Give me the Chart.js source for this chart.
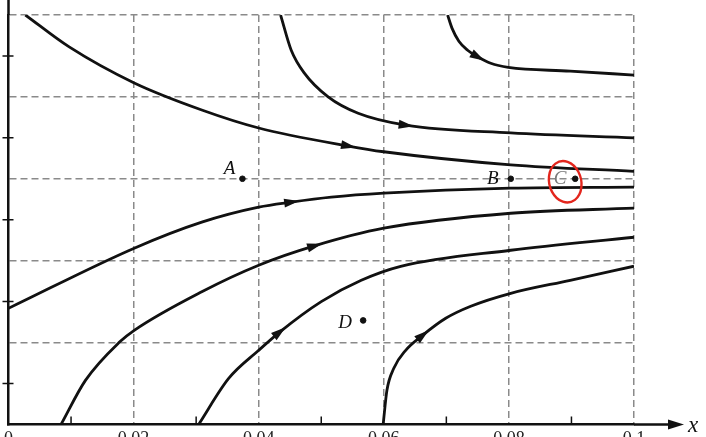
<!DOCTYPE html>
<html>
<head>
<meta charset="utf-8">
<script src="https://cdn.jsdelivr.net/npm/chart.js@4.4.0/dist/chart.umd.min.js"></script>
<style>
    html, body { margin: 0; padding: 0; background: #fff; }
    #wrap { width: 706px; height: 437px; }
</style>
</head>
<body>
<div id="wrap"><canvas id="field-chart" width="706" height="437"></canvas></div>
<script>
// Lignes de champ : x en m, y en divisions de grille
const line1 = [
    {x: 0.0027, y: 5.0}, {x: 0.0097, y: 4.61}, {x: 0.0201, y: 4.17}, {x: 0.0309, y: 3.84},
    {x: 0.0400, y: 3.62}, {x: 0.0543, y: 3.40}, {x: 0.0600, y: 3.33}, {x: 0.0803, y: 3.17},
    {x: 0.1, y: 3.09}
];
const line2 = [
    {x: 0.0435, y: 5.0}, {x: 0.0452, y: 4.57}, {x: 0.0473, y: 4.29}, {x: 0.0511, y: 4.00},
    {x: 0.0559, y: 3.80}, {x: 0.0635, y: 3.655}, {x: 0.0803, y: 3.56}, {x: 0.1, y: 3.50}
];
const line3 = [
    {x: 0.0702, y: 5.0}, {x: 0.0709, y: 4.84}, {x: 0.0720, y: 4.68}, {x: 0.0734, y: 4.57},
    {x: 0.0750, y: 4.49}, {x: 0.0771, y: 4.41}, {x: 0.0799, y: 4.36}, {x: 0.0898, y: 4.315},
    {x: 0.1, y: 4.266}
];
const line4 = [
    {x: 0.0, y: 1.418}, {x: 0.0201, y: 2.152}, {x: 0.0309, y: 2.47}, {x: 0.0400, y: 2.653},
    {x: 0.0452, y: 2.714}, {x: 0.0516, y: 2.775}, {x: 0.0600, y: 2.824}, {x: 0.0803, y: 2.885},
    {x: 0.1, y: 2.897}
];
const line5 = [
    {x: 0.0084, y: 0.0}, {x: 0.0123, y: 0.538}, {x: 0.0177, y: 1.002}, {x: 0.0201, y: 1.149},
    {x: 0.0309, y: 1.62}, {x: 0.0400, y: 1.944}, {x: 0.0489, y: 2.18}, {x: 0.0600, y: 2.396},
    {x: 0.0803, y: 2.579}, {x: 0.1, y: 2.641}
];
const line6 = [
    {x: 0.0304, y: 0.0}, {x: 0.0352, y: 0.562}, {x: 0.0400, y: 0.905}, {x: 0.0433, y: 1.125},
    {x: 0.0500, y: 1.50}, {x: 0.0564, y: 1.76}, {x: 0.0627, y: 1.93}, {x: 0.0803, y: 2.127},
    {x: 0.1, y: 2.286}
];
const line7 = [
    {x: 0.0599, y: 0.0}, {x: 0.0605, y: 0.416}, {x: 0.0616, y: 0.685}, {x: 0.0635, y: 0.905},
    {x: 0.0662, y: 1.088}, {x: 0.0699, y: 1.296}, {x: 0.0739, y: 1.443}, {x: 0.0803, y: 1.601},
    {x: 0.0898, y: 1.760}, {x: 0.1, y: 1.932}
];
const fieldLines = [line1, line2, line3, line4, line5, line6, line7];
// indice du point portant la flèche sur chaque ligne
const arrowIndex = [5, 5, 4, 4, 6, 3, 4];

// Points repérés
const pointNames = ['A', 'B', 'C', 'D'];
const pointXs = [0.0374, 0.0803, 0.0906, 0.0567];
const pointYs = [3.0, 3.0, 3.0, 1.27];

// Graduations
const xTickLabels = ['0', '0.02', '0.04', '0.06', '0.08', '0.1'];
const xAxisTitle = 'x (m)';

const GRID_COLOR = '#8a8a8a';
const INK = '#111';

/**
 * Dessine les éléments de la figure que Chart.js ne sait pas faire
 */
const figurePlugin = {
    id: 'figureExtras',
    afterDatasetsDraw(chart) {
        const ctx = chart.ctx;
        const xs = chart.scales.x;
        const ys = chart.scales.y;

        // Flèches sur les lignes de champ
        ctx.save();
        ctx.fillStyle = INK;
        fieldLines.forEach((line, i) => {
            const k = arrowIndex[i];
            const p = {x: xs.getPixelForValue(line[k].x), y: ys.getPixelForValue(line[k].y)};
            const a = line[k - 1], b = line[k + 1];
            const ang = Math.atan2(ys.getPixelForValue(b.y) - ys.getPixelForValue(a.y),
                                   xs.getPixelForValue(b.x) - xs.getPixelForValue(a.x));
            ctx.save();
            ctx.translate(p.x, p.y);
            ctx.rotate(ang);
            ctx.beginPath();
            ctx.moveTo(8, 0);
            ctx.lineTo(-7, -4.5);
            ctx.lineTo(-7, 4.5);
            ctx.closePath();
            ctx.fill();
            ctx.restore();
        });
        ctx.restore();
    },
    afterDraw(chart) {
        const ctx = chart.ctx;
        const xs = chart.scales.x;
        const ys = chart.scales.y;
        const area = chart.chartArea;
        const x0 = xs.getPixelForValue(0);
        const y0 = ys.getPixelForValue(0);

        ctx.save();
        ctx.strokeStyle = INK;
        ctx.fillStyle = INK;
        ctx.lineWidth = 2.5;

        // Prolongement des axes
        ctx.beginPath();
        ctx.moveTo(x0, area.top);
        ctx.lineTo(x0, 0);
        ctx.moveTo(area.right, y0);
        ctx.lineTo(672, y0);
        ctx.stroke();
        ctx.beginPath();
        ctx.moveTo(684, y0);
        ctx.lineTo(668, y0 - 5);
        ctx.lineTo(668, y0 + 5);
        ctx.closePath();
        ctx.fill();

        // Petites graduations
        ctx.lineWidth = 1.5;
        ctx.beginPath();
        xs.ticks.forEach(t => {
            if (Math.round(t.value * 100) % 2 === 1) {
                const px = xs.getPixelForValue(t.value);
                ctx.moveTo(px, y0 - 8);
                ctx.lineTo(px, y0);
            }
        });
        ys.ticks.forEach(t => {
            if (Math.abs(t.value % 1) > 0.01) {
                const py = ys.getPixelForValue(t.value);
                ctx.moveTo(x0 - 6, py);
                ctx.lineTo(x0 + 5, py);
            }
        });
        ctx.stroke();

        // Titre de l'axe x
        ctx.font = 'italic 23px "Liberation Serif", serif';
        ctx.textBaseline = 'middle';
        ctx.textAlign = 'left';
        ctx.fillText('x', 688, y0 + 2);
        ctx.font = '23px "Liberation Serif", serif';
        ctx.fillText(xAxisTitle.slice(1), 700, y0 + 2);

        // Noms des points
        const offsets = [[-13, -10], [-18, 0], [-15, 0], [-18, 3]];
        ctx.font = 'italic 19px "Liberation Serif", serif';
        ctx.textAlign = 'center';
        pointNames.forEach((name, i) => {
            const px = xs.getPixelForValue(pointXs[i]);
            const py = ys.getPixelForValue(pointYs[i]);
            ctx.fillStyle = name === 'C' ? '#7a7a7a' : INK;
            ctx.fillText(name, px + offsets[i][0], py + offsets[i][1]);
        });

        // Cercle rouge tracé à la main autour de C
        const cx = xs.getPixelForValue(pointXs[2]) - 10;
        const cy = ys.getPixelForValue(pointYs[2]) + 3;
        ctx.strokeStyle = '#e3261d';
        ctx.lineWidth = 2.4;
        ctx.beginPath();
        ctx.ellipse(cx, cy, 16, 21, -0.25, -1.1, -1.1 + Math.PI * 2 + 0.45);
        ctx.stroke();
        ctx.restore();
    }
};

const datasets = fieldLines.map(line => ({
    type: 'line',
    data: line,
    borderColor: INK,
    borderWidth: 2.8,
    pointRadius: 0,
    cubicInterpolationMode: 'monotone',
    fill: false
}));

datasets.push({
    type: 'scatter',
    data: pointXs.map((x, i) => ({x: x, y: pointYs[i]})),
    backgroundColor: INK,
    borderColor: INK,
    pointRadius: 2.8
});

const chartCtx = document.getElementById('field-chart').getContext('2d');
const fieldChart = new Chart(chartCtx, {
    data: { datasets: datasets },
    options: {
        responsive: false,
        animation: false,
        layout: {
            padding: { top: 15, right: 72, left: 6, bottom: -17 }
        },
        plugins: {
            legend: { display: false },
            tooltip: { enabled: false }
        },
        scales: {
            x: {
                type: 'linear',
                min: 0,
                max: 0.1,
                grid: {
                    drawTicks: false,
                    lineWidth: 1.5,
                    color: c => {
                        const n = Math.round(c.tick.value * 100);
                        return (n % 2 === 0 && n > 0) ? GRID_COLOR : 'transparent';
                    }
                },
                border: { color: INK, width: 2.5, dash: [7, 4] },
                ticks: {
                    stepSize: 0.01,
                    autoSkip: false,
                    maxRotation: 0,
                    padding: 4,
                    color: '#222',
                    font: { family: '"Liberation Serif", serif', size: 18 },
                    callback: value => {
                        const n = Math.round(value * 100);
                        return n % 2 === 0 ? xTickLabels[n / 2] : '';
                    }
                }
            },
            y: {
                type: 'linear',
                min: 0,
                max: 5,
                grid: {
                    drawTicks: false,
                    lineWidth: 1.5,
                    color: c => {
                        const v = c.tick.value;
                        return (Math.abs(v % 1) < 0.01 && v > 0) ? GRID_COLOR : 'transparent';
                    }
                },
                border: { color: INK, width: 2.5, dash: [7, 4] },
                ticks: { stepSize: 0.5, display: false }
            }
        }
    },
    plugins: [figurePlugin]
});
</script>
</body>
</html>
